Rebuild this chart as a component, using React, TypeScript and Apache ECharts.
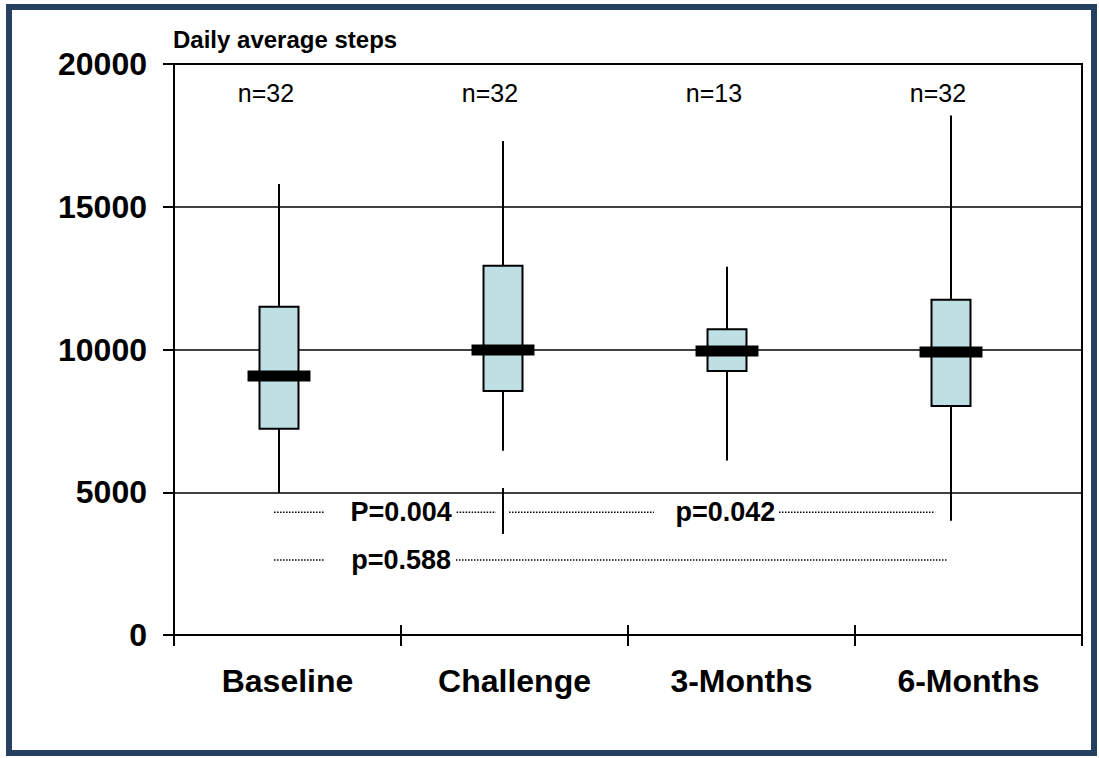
import React, { useEffect, useRef } from "react";
import * as echarts from "echarts";

const categories = ["Baseline", "Challenge", "3-Months", "6-Months"];
const whiskerHigh = [15800, 17300, 12900, 18200];
const quartile3 = [11500, 12930, 10710, 11740];
const medians = [9070, 9980, 9950, 9910];
const quartile1 = [7220, 8550, 9250, 8020];
const whiskerLow = [4970, 6450, 6110, 4000];
const nLabels = ["n=32", "n=32", "n=13", "n=32"];

const yMin = 0;
const yMax = 20000;
const yInterval = 5000;

// p-value annotations (x in category-index units, y in steps)
const pTexts = ["P=0.004", "p=0.042", "p=0.588"];
const pTextX = [0.545, 1.993, 0.545];
const pTextY = [4300, 4300, 2630];
const dotSegStart = [-0.022, 0.793, 1.027, 2.232, -0.022, 0.79];
const dotSegEnd = [0.205, 0.969, 1.674, 2.929, 0.205, 2.982];
const dotSegY = [4300, 4300, 4300, 4300, 2630, 2630];
const dividerX = [1];
const dividerLow = [3540];
const dividerHigh = [5150];

const FONT = "'Liberation Sans', Arial, Helvetica, sans-serif";

export default function App() {
  const ref = useRef<HTMLDivElement>(null);

  useEffect(() => {
    const chart = echarts.init(ref.current as HTMLDivElement, null, { renderer: "svg" });

    const boxData = categories.map((_, i) => [
      i,
      whiskerLow[i],
      quartile1[i],
      medians[i],
      quartile3[i],
      whiskerHigh[i],
    ]);
    const segData = dotSegStart.map((s, i) => [s, dotSegEnd[i], dotSegY[i]]);
    const textData = pTexts.map((t, i) => [pTextX[i], pTextY[i], t]);
    const dividerData = dividerX.map((x, i) => [x, dividerLow[i], dividerHigh[i]]);

    const option: any = {
      animation: false,
      backgroundColor: "#ffffff",
      title: {
        text: "Daily average steps",
        left: 173,
        top: 27,
        padding: 0,
        textStyle: { fontFamily: FONT, fontSize: 24, fontWeight: "bold", color: "#000" },
      },
      graphic: [
        {
          type: "rect",
          shape: { x: 9, y: 7, width: 1085, height: 746 },
          style: { fill: "none", stroke: "#254061", lineWidth: 6 },
          silent: true,
        },
      ],
      grid: {
        left: 174,
        right: 17,
        top: 64,
        bottom: 123,
        show: true,
        borderColor: "#000",
        borderWidth: 2,
        backgroundColor: "transparent",
      },
      xAxis: [
        {
          type: "category",
          data: categories,
          position: "bottom",
          boundaryGap: true,
          axisLine: { show: true, onZero: false, lineStyle: { color: "#000", width: 2 } },
          axisTick: { show: true, inside: false, length: 11, interval: 0, lineStyle: { color: "#000", width: 2 } },
          axisLabel: {
            interval: 0,
            margin: 30,
            fontFamily: FONT,
            fontSize: 32,
            fontWeight: "bold",
            color: "#000",
          },
          splitLine: { show: false },
        },
        {
          type: "category",
          data: categories,
          position: "bottom",
          boundaryGap: true,
          axisLine: { show: false, onZero: false },
          axisTick: { show: true, inside: true, length: 10, interval: 0, lineStyle: { color: "#000", width: 2 } },
          axisLabel: { show: false },
          splitLine: { show: false },
        },
        {
          type: "value",
          position: "bottom",
          min: -0.46875,
          max: 3.5848,
          show: false,
          axisLine: { show: false, onZero: false },
          splitLine: { show: false },
        },
      ],
      yAxis: {
        type: "value",
        min: yMin,
        max: yMax,
        interval: yInterval,
        axisLine: { show: true, onZero: false, lineStyle: { color: "#000", width: 2 } },
        axisTick: { show: true, inside: false, length: 11, lineStyle: { color: "#000", width: 2 } },
        axisLabel: {
          margin: 27,
          fontFamily: FONT,
          fontSize: 32,
          fontWeight: "bold",
          color: "#000",
          formatter: (v: number) => String(v),
        },
        splitLine: { show: true, lineStyle: { color: "#000", width: 1.5 } },
      },
      series: [
        {
          type: "custom",
          name: "boxes",
          xAxisIndex: 2,
          yAxisIndex: 0,
          data: boxData,
          renderItem: (params: any, api: any) => {
            const i = api.value(0);
            const lo = api.coord([i, api.value(1)]);
            const q1 = api.coord([i, api.value(2)]);
            const md = api.coord([i, api.value(3)]);
            const q3 = api.coord([i, api.value(4)]);
            const hi = api.coord([i, api.value(5)]);
            const nPos = api.coord([i, 19000]);
            const boxW = api.size([0.174, 0])[0];
            const medW = api.size([0.281, 0])[0];
            const cx = lo[0];
            return {
              type: "group",
              children: [
                {
                  type: "line",
                  shape: { x1: cx, y1: hi[1], x2: cx, y2: lo[1] },
                  style: { stroke: "#000", lineWidth: 2 },
                },
                {
                  type: "rect",
                  shape: { x: cx - boxW / 2, y: q3[1], width: boxW, height: q1[1] - q3[1] },
                  style: { fill: "#BEE0E4", stroke: "#000", lineWidth: 2 },
                },
                {
                  type: "rect",
                  shape: { x: cx - medW / 2, y: md[1] - 5.5, width: medW, height: 11 },
                  style: { fill: "#000", stroke: "none" },
                },
                {
                  type: "text",
                  x: cx - 13,
                  y: nPos[1],
                  style: {
                    text: nLabels[params.dataIndex],
                    fontFamily: FONT,
                    fontSize: 25,
                    fill: "#000",
                    align: "center",
                    verticalAlign: "middle",
                  },
                },
              ],
            };
          },
          z: 5,
        },
        {
          type: "custom",
          name: "dotted",
          xAxisIndex: 2,
          yAxisIndex: 0,
          data: segData,
          renderItem: (params: any, api: any) => {
            const a = api.coord([api.value(0), api.value(2)]);
            const b = api.coord([api.value(1), api.value(2)]);
            return {
              type: "line",
              shape: { x1: a[0], y1: a[1], x2: b[0], y2: b[1] },
              style: { stroke: "#000", lineWidth: 1.5, lineDash: [1.5, 1.5] },
            };
          },
          z: 6,
        },
        {
          type: "custom",
          name: "divider",
          xAxisIndex: 2,
          yAxisIndex: 0,
          data: dividerData,
          renderItem: (params: any, api: any) => {
            const a = api.coord([api.value(0), api.value(1)]);
            const b = api.coord([api.value(0), api.value(2)]);
            return {
              type: "line",
              shape: { x1: a[0], y1: a[1], x2: b[0], y2: b[1] },
              style: { stroke: "#000", lineWidth: 2 },
            };
          },
          z: 6,
        },
        {
          type: "custom",
          name: "pvalues",
          xAxisIndex: 2,
          yAxisIndex: 0,
          data: textData,
          renderItem: (params: any, api: any) => {
            const p = api.coord([api.value(0), api.value(1)]);
            return {
              type: "text",
              x: p[0],
              y: p[1],
              style: {
                text: pTexts[params.dataIndex],
                fontFamily: FONT,
                fontSize: 27,
                fontWeight: "bold",
                fill: "#000",
                align: "center",
                verticalAlign: "middle",
              },
            };
          },
          z: 7,
        },
      ],
    };

    chart.setOption(option);
    return () => chart.dispose();
  }, []);

  return (
    <div
      ref={ref}
      style={{ position: "fixed", left: 0, top: 0, width: 1099, height: 758, background: "#fff" }}
    />
  );
}
